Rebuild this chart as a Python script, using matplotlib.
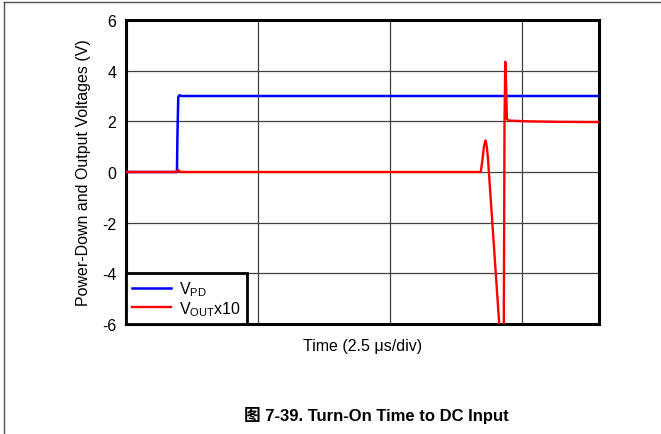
import matplotlib
matplotlib.use("Agg")
import matplotlib.pyplot as plt
from matplotlib.lines import Line2D

plt.rcParams['font.family'] = ['Liberation Sans', 'Noto Sans CJK SC', 'DejaVu Sans']
plt.rcParams['mathtext.fontset'] = 'custom'
plt.rcParams['mathtext.rm'] = 'Liberation Sans'

# time in microseconds (2.5 us per division)
vpd_t = [0.0, 0.965, 0.975, 0.99, 1.01, 1.05, 8.96]
vpd_v = [0.0, 0.0, 1.5, 2.95, 3.03, 3.0, 3.0]

vout_t = [0.0, 0.96, 0.99, 1.03, 6.72, 6.75, 6.78, 6.81, 6.835, 6.856, 7.07, 7.11,
          7.155, 7.17, 7.185, 7.20, 7.215, 7.25, 7.6, 8.2, 8.96]
vout_v = [0.0, 0.0, 0.08, 0.0, 0.0, 0.45, 1.0, 1.25, 1.0, 0.55, -6.0, -7.0,
          -7.0, 2.0, 4.35, 3.5, 2.1, 2.03, 2.0, 1.98, 1.97]

y_ticks = [-6, -4, -2, 0, 2, 4, 6]
x_grid = [2.5, 5.0, 7.5]

fig = plt.figure(figsize=(6.61, 4.35), dpi=100)
ax = fig.add_axes([126 / 661, 1 - 325 / 435, 473 / 661, 304 / 435])

ax.plot(vpd_t, vpd_v, color='#0000ff', lw=1.8, label=r'V$_{\mathrm{PD}}$', zorder=3)
ax.plot(vout_t, vout_v, color='#ff0000', lw=1.7, label=r'V$_{\mathrm{OUT}}$x10', zorder=4)

ax.set_xlim(0, 8.96)
ax.set_ylim(-6, 6)
ax.set_yticks(y_ticks)
ax.set_yticklabels([str(v) for v in y_ticks], fontsize=11.5)
ax.set_xticks(x_grid)
ax.set_xticklabels([])
ax.tick_params(length=0, pad=7)
ax.grid(True, color='#404040', lw=0.9)
ax.set_axisbelow(True)
for s in ax.spines.values():
    s.set_linewidth(2.2)
    s.set_color('black')

ax.set_ylabel('Power-Down and Output Voltages (V)', fontsize=11.5, labelpad=8)
ax.set_xlabel('Time (2.5 \u03bcs/div)', fontsize=11.5, labelpad=3)

leg = ax.legend(loc='lower left', borderaxespad=0, fancybox=False, framealpha=1,
                edgecolor='black', fontsize=11.5, handlelength=2.4, handletextpad=0.5,
                labelspacing=0.05, borderpad=0.4)
leg.get_frame().set_linewidth(2.0)
leg.set_zorder(5)

fig.text(0.569, 1 - 416 / 435, '\u56fe 7-39. Turn-On Time to DC Input',
         ha='center', va='center', fontsize=12, fontweight='bold')

# page frame lines
fig.add_artist(Line2D([4.3 / 661, 1], [1 - 3.3 / 435, 1 - 3.3 / 435], color='#505050', lw=1.0))
fig.add_artist(Line2D([4.3 / 661, 4.3 / 661], [0, 1 - 3.3 / 435], color='#505050', lw=1.0))

fig.savefig('out.png', dpi=100)
